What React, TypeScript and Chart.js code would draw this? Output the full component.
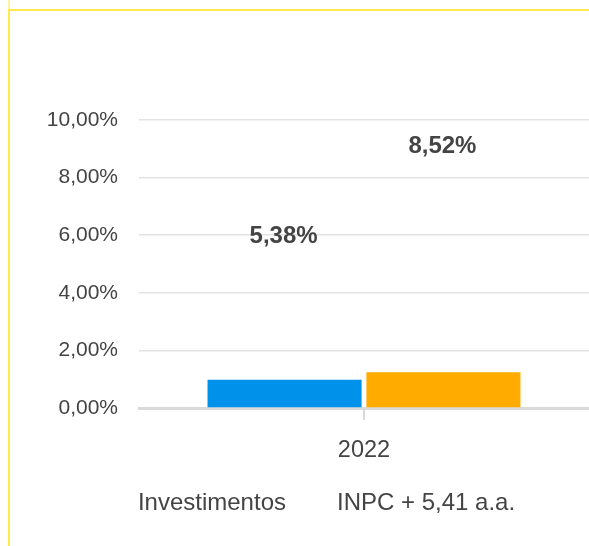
import React, { useEffect, useRef } from "react";
import { Chart, registerables } from "chart.js";

Chart.register(...registerables);

const categories = ["2022"];
const seriesNames = ["Investimentos", "INPC + 5,41 a.a."];
const barValues = [0.98, 1.24];
const labelValues = [5.38, 8.52];
const seriesColors = ["#0091EA", "#FFAB00"];
const yTicks = [0, 2, 4, 6, 8, 10];

const FONT = "'Liberation Sans', Arial, sans-serif";
const TEXT = "#444444";

const fmt = (v: number) => v.toFixed(2).replace(".", ",") + "%";

const labelPlugin = {
  id: "topLabels",
  afterDatasetsDraw(chart: any) {
    const ctx = chart.ctx;
    const y = chart.scales.y;
    ctx.save();
    ctx.font = `bold 24px ${FONT}`;
    ctx.fillStyle = TEXT;
    ctx.textAlign = "center";
    ctx.textBaseline = "alphabetic";
    chart.data.datasets.forEach((ds: any, i: number) => {
      const meta = chart.getDatasetMeta(i);
      meta.data.forEach((bar: any) => {
        const v = labelValues[i];
        ctx.fillText(fmt(v), bar.x - 1, y.getPixelForValue(v) - 10);
      });
    });
    ctx.restore();
  },
};

export default function App() {
  const ref = useRef<HTMLCanvasElement>(null);
  useEffect(() => {
    if (!ref.current) return;
    const chart = new Chart(ref.current, {
      type: "bar",
      data: {
        labels: categories,
        datasets: seriesNames.map((name, i) => ({
          label: name,
          data: [barValues[i]],
          backgroundColor: seriesColors[i],
          borderWidth: 0,
          barPercentage: 0.97,
          categoryPercentage: 0.706,
        })),
      },
      options: {
        animation: false,
        responsive: false,
        devicePixelRatio: 1,
        layout: { padding: { top: 120, left: 23, right: 0, bottom: 21 } },
        plugins: {
          tooltip: { enabled: false },
          legend: {
            position: "bottom",
            labels: {
              boxWidth: 29,
              padding: 10,
              color: TEXT,
              font: { family: FONT, size: 24 },
              generateLabels: (c: any) =>
                Chart.defaults.plugins.legend.labels
                  .generateLabels(c)
                  .map((l: any) => ({
                    ...l,
                    fillStyle: "rgba(0,0,0,0)",
                    strokeStyle: "rgba(0,0,0,0)",
                    lineWidth: 0,
                  })),
            },
          },
        },
        scales: {
          x: {
            grid: {
              offset: false,
              drawOnChartArea: false,
              drawTicks: true,
              tickLength: 12,
              color: "#d9d9d9",
              lineWidth: 2,
            },
            border: { color: "#d9d9d9", width: 3 },
            ticks: {
              color: TEXT,
              padding: 16,
              font: { family: FONT, size: 23.5 },
            },
            afterFit: (s: any) => {
              s.height = 73;
            },
          },
          y: {
            min: 0,
            max: 10,
            afterBuildTicks: (s: any) => {
              s.ticks = yTicks.map((v) => ({ value: v }));
            },
            grid: { color: "#e3e3e3", lineWidth: 1.5, drawTicks: false },
            border: { display: false },
            ticks: {
              color: TEXT,
              padding: 21,
              font: { family: FONT, size: 21 },
              callback: (v: any) => fmt(Number(v)),
            },
            afterFit: (s: any) => {
              s.width = 116;
            },
          },
        },
      },
      plugins: [labelPlugin],
    });
    return () => chart.destroy();
  }, []);

  return (
    <div style={{ position: "absolute", left: 0, top: 0, width: 589, height: 546, background: "#fff" }}>
      <div style={{ position: "absolute", left: 8, top: 0, width: 2, height: 9, background: "#FFF3A0" }} />
      <div
        style={{
          position: "absolute",
          left: 8,
          top: 9,
          width: 581,
          height: 537,
          borderLeft: "2px solid #FFEB50",
          borderTop: "2px solid #FFEB50",
          boxSizing: "border-box",
        }}
      />
      <canvas ref={ref} width={589} height={546} style={{ position: "absolute", left: 0, top: 0 }} />
    </div>
  );
}
